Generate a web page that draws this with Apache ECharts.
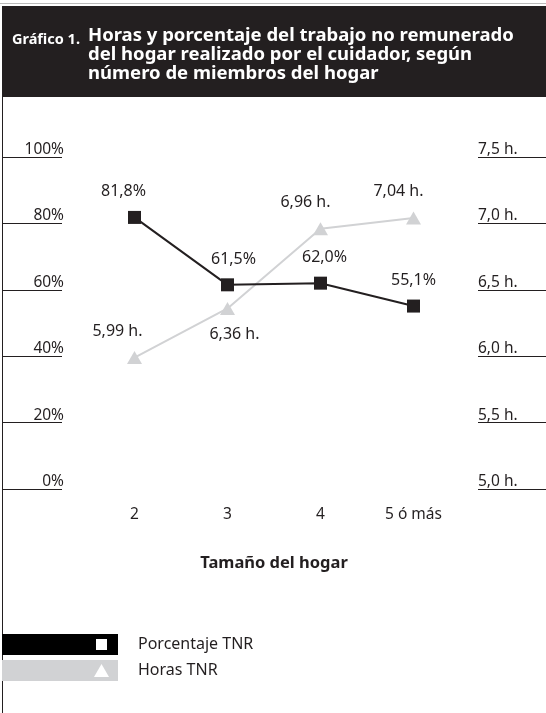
<!DOCTYPE html>
<html><head><meta charset="utf-8">
<script src="https://cdn.jsdelivr.net/npm/echarts@6/dist/echarts.min.js"></script>
<style>html,body{margin:0;padding:0;background:#fff}#c{width:546px;height:713px}</style>
</head><body><div id="c"></div>
<script>
var categories = ['2', '3', '4', '5 ó más'];
var pctValues = [81.8, 61.5, 62.0, 55.1];
var hourValues = [5.99, 6.36, 6.96, 7.04];
var pctTicks = ['0%', '20%', '40%', '60%', '80%', '100%'];
var hourTicks = ['5,0 h.', '5,5 h.', '6,0 h.', '6,5 h.', '7,0 h.', '7,5 h.'];
var pctLabelOffsets = [[-11, 0], [6, 0], [4, 0], [0, 0]];
var hourLabelPos = ['top', 'bottom', 'top', 'top'];
var hourLabelOffsets = [[-17, 0], [7, 0], [-15, 0], [-15, 0]];

var FONT = 'Noto Sans';
var chart = echarts.init(document.getElementById('c'), null, {renderer: 'canvas'});
function fmtNum(v, d) { return v.toFixed(d).replace('.', ','); }

var option = {
  animation: false,
  textStyle: {fontFamily: FONT},
  grid: {left: 88, right: 86, top: 157, bottom: 224},
  xAxis: {
    type: 'category', data: categories, boundaryGap: true,
    axisLine: {show: false}, axisTick: {show: false},
    axisLabel: {color: '#231f20', fontSize: 15.5, margin: 18, fontFamily: FONT},
    name: 'Tamaño del hogar', nameLocation: 'middle', nameGap: 66,
    nameTextStyle: {color: '#231f20', fontSize: 16.5, fontWeight: 'bold', fontFamily: FONT}
  },
  yAxis: [{
    type: 'value', min: 0, max: 100, interval: 20, position: 'left', offset: 26,
    axisLine: {show: false},
    axisTick: {show: true, length: 60, lineStyle: {color: '#231f20', width: 1}},
    splitLine: {show: false},
    axisLabel: {formatter: function (v) { return pctTicks[v / 20]; }, color: '#231f20', fontSize: 15.5,
      margin: -2, align: 'right', verticalAlign: 'bottom', lineHeight: 15, fontFamily: FONT}
  }, {
    type: 'value', min: 5, max: 7.5, interval: 0.5, position: 'right', offset: 18,
    axisLine: {show: false},
    axisTick: {show: true, length: 68, lineStyle: {color: '#231f20', width: 1}},
    splitLine: {show: false},
    axisLabel: {formatter: function (v) { return hourTicks[Math.round((v - 5) / 0.5)]; }, color: '#231f20', fontSize: 15.5,
      margin: 0, align: 'left', verticalAlign: 'bottom', lineHeight: 15, fontFamily: FONT}
  }],
  series: [{
    name: 'Porcentaje TNR', type: 'line', yAxisIndex: 0,
    data: pctValues.map(function (v, i) {
      return {value: v, label: {offset: pctLabelOffsets[i]}};
    }),
    symbol: 'rect', symbolSize: 13,
    lineStyle: {color: '#231f20', width: 2}, itemStyle: {color: '#231f20'},
    label: {show: true, position: 'top', distance: 11, color: '#231f20', fontSize: 16, fontFamily: FONT,
      formatter: function (p) { return fmtNum(p.value, 1) + '%'; }},
    z: 3
  }, {
    name: 'Horas TNR', type: 'line', yAxisIndex: 1,
    data: hourValues.map(function (v, i) {
      return {value: v, label: {position: hourLabelPos[i], offset: hourLabelOffsets[i]}};
    }),
    symbol: 'triangle', symbolSize: [15, 13],
    lineStyle: {color: '#d1d2d4', width: 2}, itemStyle: {color: '#d1d2d4'},
    label: {show: true, distance: 12, color: '#231f20', fontSize: 16, fontFamily: FONT,
      formatter: function (p) { return fmtNum(p.value, 2) + ' h.'; }},
    z: 2
  }],
  graphic: [
    {type: 'rect', shape: {x: 2, y: 6, width: 544, height: 91}, style: {fill: '#231f20'}},
    {type: 'rect', shape: {x: 0, y: 3, width: 546, height: 1}, style: {fill: '#bbbbbb'}},
    {type: 'line', shape: {x1: 2.5, y1: 97, x2: 2.5, y2: 713}, style: {stroke: '#231f20', lineWidth: 1}},
    {type: 'text', x: 12, y: 32, style: {text: 'Gráfico 1.', fill: '#ffffff', font: 'bold 14.5px "Noto Sans"'}},
    {type: 'text', x: 88, y: 26, style: {text: 'Horas y porcentaje del trabajo no remunerado\ndel hogar realizado por el cuidador, según\nnúmero de miembros del hogar',
      fill: '#ffffff', font: 'bold 18.5px "Noto Sans"', lineHeight: 19}},
    {type: 'rect', shape: {x: 2, y: 634, width: 116, height: 21}, style: {fill: '#000000'}},
    {type: 'rect', shape: {x: 96, y: 639, width: 11, height: 11}, style: {fill: '#ffffff'}},
    {type: 'rect', shape: {x: 2, y: 660, width: 116, height: 21}, style: {fill: '#d1d2d4'}},
    {type: 'polygon', shape: {points: [[101.5, 664], [94, 677], [109, 677]]}, style: {fill: '#ffffff'}},
    {type: 'text', x: 138, y: 644, style: {text: 'Porcentaje TNR', fill: '#231f20', font: '16px "Noto Sans"', verticalAlign: 'middle'}},
    {type: 'text', x: 138, y: 670, style: {text: 'Horas TNR', fill: '#231f20', font: '16px "Noto Sans"', verticalAlign: 'middle'}}
  ]
};
chart.setOption(option);
</script>
</body></html>
